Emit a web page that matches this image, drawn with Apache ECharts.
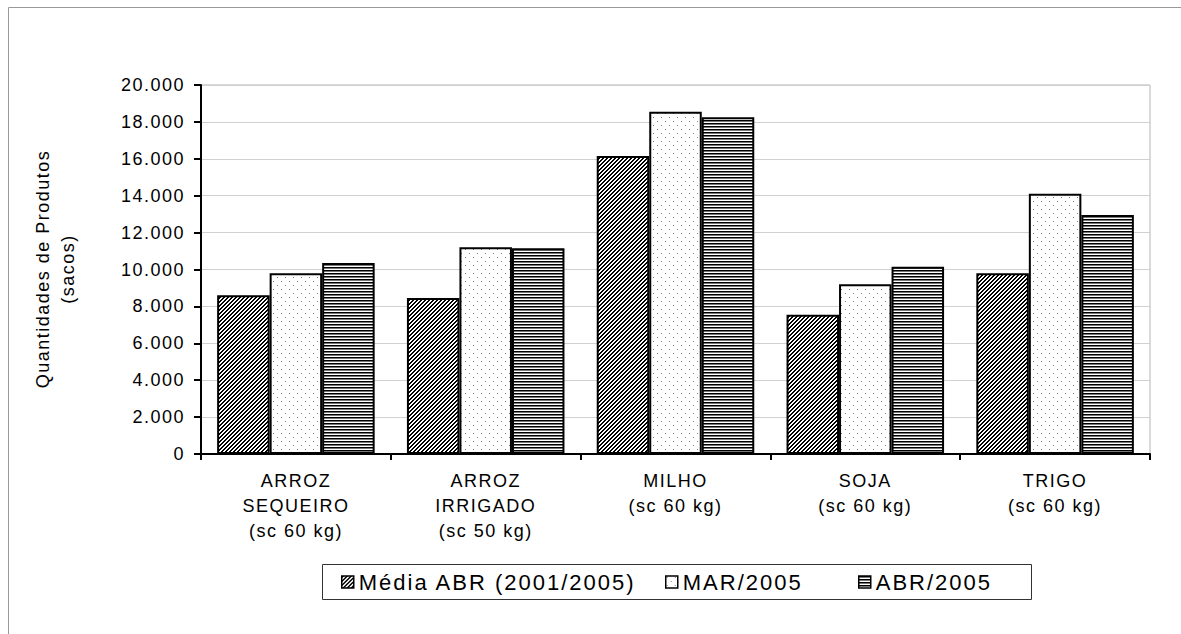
<!DOCTYPE html>
<html><head><meta charset="utf-8">
<script src="https://cdn.jsdelivr.net/npm/echarts@6/dist/echarts.min.js"></script>
<style>
html,body{margin:0;padding:0;background:#fff;}
#chart{width:1181px;height:634px;}
#chart text{letter-spacing:1.5px;}
#chart text[style*="22px"]{letter-spacing:2px;}
</style></head><body><div id="chart"></div>
<script>
// ---- data ----
const categories = ['ARROZ\nSEQUEIRO\n(sc 60 kg)', 'ARROZ\nIRRIGADO\n(sc 50 kg)', 'MILHO\n(sc 60 kg)', 'SOJA\n(sc 60 kg)', 'TRIGO\n(sc 60 kg)'];
const seriesNames = ['Média ABR (2001/2005)', 'MAR/2005', 'ABR/2005'];
const mediaAbr = [8600, 8450, 16150, 7550, 9800];
const mar2005 = [9800, 11200, 18550, 9200, 14100];
const abr2005 = [10350, 11150, 18250, 10150, 12950];
const yTickValues = [0, 2000, 4000, 6000, 8000, 10000, 12000, 14000, 16000, 18000, 20000];
const yTickLabels = ['0', '2.000', '4.000', '6.000', '8.000', '10.000', '12.000', '14.000', '16.000', '18.000', '20.000'];
const yAxisTitle = 'Quantidades de Produtos\n(sacos)';

// ---- patterns ----
function tile(w, h, draw) {
  const c = document.createElement('canvas');
  c.width = w; c.height = h;
  const ctx = c.getContext('2d');
  ctx.fillStyle = '#fff'; ctx.fillRect(0, 0, w, h);
  draw(ctx);
  return { image: c, repeat: 'repeat', imageWidth: w, imageHeight: h };
}
const hatch = tile(4, 4, ctx => {
  ctx.fillStyle = '#000';
  for (let x = 0; x < 4; x++) for (let y = 0; y < 4; y++) if ((x + y) % 4 < 2) ctx.fillRect(x, y, 1, 1);
});
const dots = tile(8, 8, ctx => {
  ctx.fillStyle = '#808080';
  ctx.fillRect(1, 1, 1, 1); ctx.fillRect(5, 5, 1, 1);
});
const hlines = tile(4, 3, ctx => {
  ctx.fillStyle = '#000'; ctx.fillRect(0, 0, 4, 1);
  ctx.fillStyle = '#777'; ctx.fillRect(0, 1, 4, 1);
});
const patterns = [hatch, dots, hlines];
const seriesData = [mediaAbr, mar2005, abr2005];

const font = "'Liberation Sans', Arial, sans-serif";
const chart = echarts.init(document.getElementById('chart'), null, { renderer: 'svg' });
const legendLefts = [341, 665, 858];

chart.setOption({
  animation: false,
  backgroundColor: '#fff',
  grid: { left: 201, right: 31, top: 85, bottom: 180, show: true, borderColor: '#b4b4b4', borderWidth: 1, backgroundColor: 'transparent' },
  xAxis: {
    type: 'category', data: categories,
    axisLine: { lineStyle: { color: '#000', width: 2 } },
    axisTick: { show: true, length: 6, interval: 0, lineStyle: { color: '#000', width: 2 } },
    axisLabel: { interval: 0, margin: 14, fontSize: 18, lineHeight: 25, color: '#000', fontFamily: font },
    splitLine: { show: false }
  },
  yAxis: {
    type: 'value', min: 0, max: 20000, interval: 2000,
    axisLine: { show: true, lineStyle: { color: '#000', width: 2 } },
    axisTick: { show: true, length: 7, lineStyle: { color: '#000', width: 2 } },
    axisLabel: { margin: 16, fontSize: 18, color: '#000', fontFamily: font,
      formatter: v => { const i = yTickValues.indexOf(v); return i >= 0 ? yTickLabels[i] : ''; } },
    splitLine: { lineStyle: { color: '#d0d0d0', width: 1 } }
  },
  legend: seriesNames.map((n, i) => ({
    data: [n], left: legendLefts[i], top: 571, icon: 'rect', itemWidth: 12, itemHeight: 12,
    padding: 0, itemGap: 0, selectedMode: false,
    textStyle: { fontSize: 22, color: '#000', fontFamily: font },
    itemStyle: { borderColor: '#000', borderWidth: 1.5 }
  })),
  graphic: [
    { type: 'rect', shape: { x: 8.5, y: 7.5, width: 1300, height: 800 }, style: { fill: 'none', stroke: '#999', lineWidth: 1 }, silent: true, z: -10 },
    { type: 'rect', shape: { x: 322.5, y: 564.5, width: 709, height: 35 }, style: { fill: 'none', stroke: '#333', lineWidth: 1 }, silent: true },
    { type: 'text', x: 55, y: 269, rotation: Math.PI / 2,
      style: { text: yAxisTitle, fontSize: 18, lineHeight: 25, fontFamily: font, fill: '#000', align: 'center', verticalAlign: 'middle' } }
  ],
  series: seriesNames.map((n, i) => ({
    name: n, type: 'bar', data: seriesData[i], barGap: '0%', barCategoryGap: '17%',
    itemStyle: { color: patterns[i], borderColor: '#000', borderWidth: 2 }
  }))
});
</script></body></html>
